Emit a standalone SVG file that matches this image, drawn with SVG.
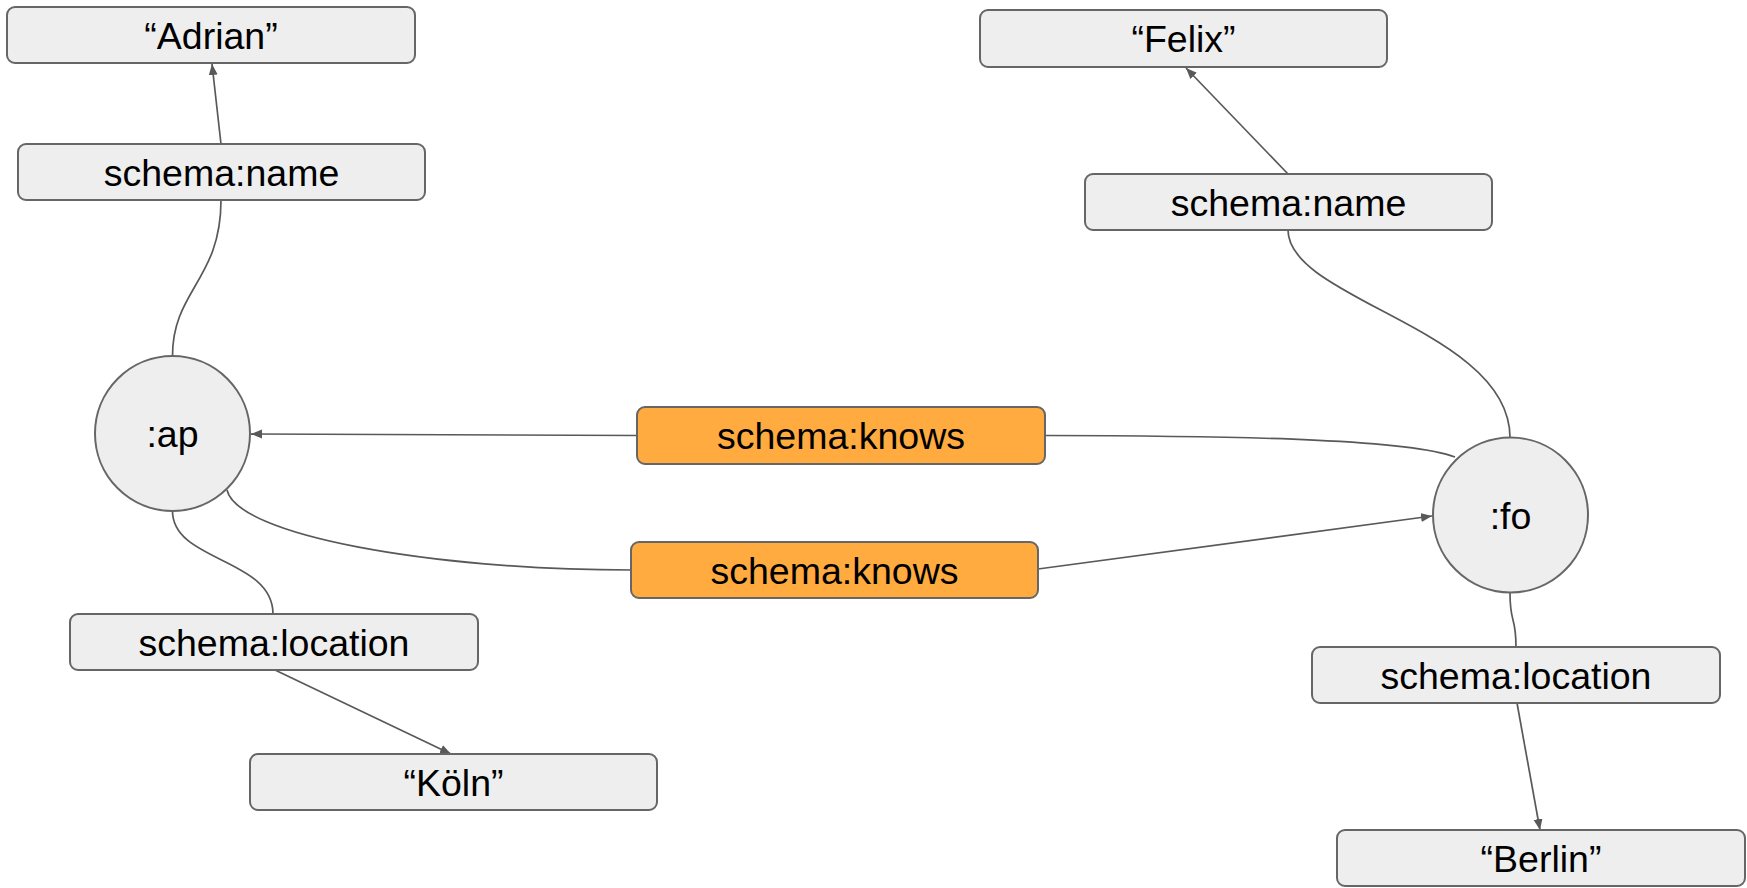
<svg xmlns="http://www.w3.org/2000/svg" width="1747" height="888" viewBox="0 0 1747 888">
  <style>
    .box { fill: #eeeeee; stroke: #666666; stroke-width: 2; }
    .prop { fill: #ffab40; stroke: #666666; stroke-width: 2; }
    .lbl { font-family: "Liberation Sans", Arial, sans-serif; font-size: 37.5px; fill: #000000; text-anchor: middle; }
    .edge { fill: none; stroke: #595959; stroke-width: 1.7; }
  </style>
  <defs>
    <marker id="arrow" markerUnits="userSpaceOnUse" markerWidth="12" markerHeight="10" refX="11" refY="4.5" orient="auto">
      <path d="M0,0 L11,4.5 L0,9 z" fill="#595959"/>
    </marker>
  </defs>
  <rect width="1747" height="888" fill="#ffffff"/>

  <g id="connectors">
    <!-- :ap name -->
    <path class="edge" d="M172.5,356 C172.5,290 221,280 221,200"/>
    <path class="edge" d="M221,144 L212,64" marker-end="url(#arrow)"/>
    <!-- :fo name -->
    <path class="edge" d="M1288,230 C1288,300 1510,330 1510,437.5"/>
    <path class="edge" d="M1288,174 L1186,68" marker-end="url(#arrow)"/>
    <!-- :fo knows :ap -->
    <path class="edge" d="M1455,457 C1410,440 1260,436 1045,435.5"/>
    <path class="edge" d="M637,435.5 L251,434" marker-end="url(#arrow)"/>
    <!-- :ap knows :fo -->
    <path class="edge" d="M227,490 C237,535 430,570 631,570"/>
    <path class="edge" d="M1038,569 L1432,516" marker-end="url(#arrow)"/>
    <!-- :ap location -->
    <path class="edge" d="M172.5,511 C172.5,562 273,558 273,614"/>
    <path class="edge" d="M275,670 L451,754" marker-end="url(#arrow)"/>
    <!-- :fo location -->
    <path class="edge" d="M1510,593 C1510,625 1516,615 1516,647"/>
    <path class="edge" d="M1517,703 L1540,830" marker-end="url(#arrow)"/>
  </g>

  <g id="adrian">
    <rect class="box" x="7" y="7" width="408" height="56" rx="8"/>
    <text class="lbl" x="211" y="48.5">“Adrian”</text>
  </g>
  <g id="name-ap">
    <rect class="box" x="18" y="144" width="407" height="56" rx="8"/>
    <text class="lbl" x="221.5" y="185.5">schema:name</text>
  </g>
  <g id="felix">
    <rect class="box" x="980" y="10" width="407" height="57" rx="8"/>
    <text class="lbl" x="1183.5" y="52">“Felix”</text>
  </g>
  <g id="name-fo">
    <rect class="box" x="1085" y="174" width="407" height="56" rx="8"/>
    <text class="lbl" x="1288.5" y="215.5">schema:name</text>
  </g>
  <g id="ap">
    <circle class="box" cx="172.5" cy="433.5" r="77.5"/>
    <text class="lbl" x="172.5" y="447">:ap</text>
  </g>
  <g id="fo">
    <circle class="box" cx="1510.5" cy="515" r="77.5"/>
    <text class="lbl" x="1510.5" y="528.5">:fo</text>
  </g>
  <g id="knows-fo-ap">
    <rect class="prop" x="637" y="407" width="408" height="57" rx="8"/>
    <text class="lbl" x="841" y="449">schema:knows</text>
  </g>
  <g id="knows-ap-fo">
    <rect class="prop" x="631" y="542" width="407" height="56" rx="8"/>
    <text class="lbl" x="834.5" y="583.5">schema:knows</text>
  </g>
  <g id="location-ap">
    <rect class="box" x="70" y="614" width="408" height="56" rx="8"/>
    <text class="lbl" x="274" y="655.5">schema:location</text>
  </g>
  <g id="koeln">
    <rect class="box" x="250" y="754" width="407" height="56" rx="8"/>
    <text class="lbl" x="453.5" y="795.5">“Köln”</text>
  </g>
  <g id="location-fo">
    <rect class="box" x="1312" y="647" width="408" height="56" rx="8"/>
    <text class="lbl" x="1516" y="688.5">schema:location</text>
  </g>
  <g id="berlin">
    <rect class="box" x="1337" y="830" width="408" height="56" rx="8"/>
    <text class="lbl" x="1541" y="871.5">“Berlin”</text>
  </g>
</svg>
